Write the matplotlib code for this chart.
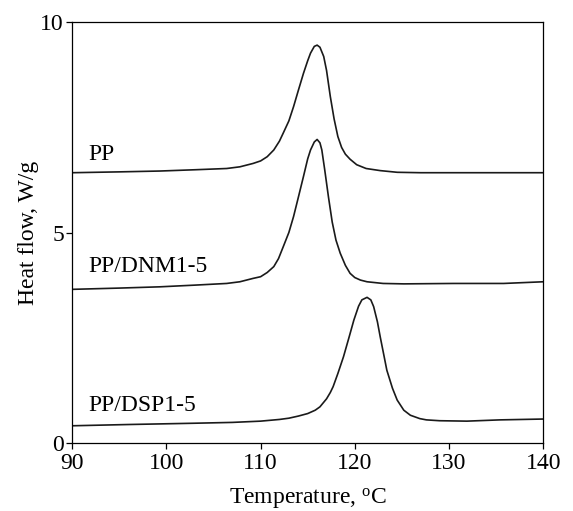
import matplotlib
matplotlib.use('Agg')
import matplotlib.pyplot as plt

plt.rcParams['font.family'] = ['Liberation Serif', 'DejaVu Serif']
plt.rcParams['mathtext.fontset'] = 'custom'
plt.rcParams['mathtext.rm'] = 'Liberation Serif'

# DSC cooling curves
pp_t = [90, 95, 99.3, 103, 106.4, 107.8, 108.5, 109.2, 110, 110.7, 111.4, 112.0,
        112.4, 113.0, 113.5, 114.0, 114.55, 115.0, 115.3, 115.7, 116.0, 116.3,
        116.7, 117.0, 117.4, 117.8, 118.2, 118.6, 119.0, 119.5, 120.2, 121.2,
        122.7, 124.5, 127, 130, 135, 140]
pp_hf = [6.42, 6.44, 6.46, 6.49, 6.52, 6.56, 6.60, 6.64, 6.70, 6.80, 6.96, 7.17,
         7.36, 7.65, 7.99, 8.37, 8.78, 9.08, 9.26, 9.42, 9.45, 9.40,
         9.18, 8.85, 8.23, 7.70, 7.28, 7.02, 6.86, 6.74, 6.61, 6.52,
         6.47, 6.43, 6.42, 6.42, 6.42, 6.42]

dnm_t = [90, 95, 99.3, 103, 106.4, 107.8, 109.2, 110, 110.7, 111.4, 111.9, 112.4,
         113.0, 113.5, 114.0, 114.55, 115.0, 115.3, 115.7, 116.0, 116.3, 116.5,
         116.8, 117.2, 117.6, 118.0, 118.45, 119.0, 119.5, 120.0, 120.6, 121.3,
         123, 125.2, 130.5, 135.8, 140]
dnm_hf = [3.65, 3.68, 3.71, 3.75, 3.79, 3.83, 3.91, 3.95, 4.05, 4.19, 4.38, 4.66,
          5.00, 5.38, 5.83, 6.33, 6.75, 6.96, 7.15, 7.21, 7.13, 6.96,
          6.50, 5.85, 5.25, 4.82, 4.51, 4.22, 4.03, 3.93, 3.87, 3.83,
          3.79, 3.78, 3.79, 3.79, 3.83]

dsp_t = [90, 96, 102.9, 107, 110, 112, 113, 114, 115, 115.8, 116.3, 117.0,
         117.4, 117.7, 118.2, 118.8, 119.4, 119.9, 120.4, 120.75, 121.3, 121.7,
         122.0, 122.4, 122.7, 123.1, 123.4, 124.0, 124.5, 125.2, 125.9, 126.9,
         127.6, 129, 131.9, 135.4, 140]
dsp_hf = [0.41, 0.44, 0.47, 0.49, 0.52, 0.56, 0.59, 0.64, 0.70, 0.78, 0.86, 1.05,
          1.20, 1.34, 1.65, 2.05, 2.52, 2.92, 3.25, 3.40, 3.46, 3.40,
          3.24, 2.88, 2.52, 2.07, 1.73, 1.30, 1.02, 0.78, 0.66, 0.58,
          0.55, 0.53, 0.52, 0.55, 0.57]

labels = ['PP', 'PP/DNM1-5', 'PP/DSP1-5']
label_y = [6.85, 4.2, 0.9]

fig = plt.figure(figsize=(5.73, 5.11), dpi=100, facecolor='white')
ax = fig.add_axes([0.126, 0.133, 0.822, 0.824])

for t, hf in [(pp_t, pp_hf), (dnm_t, dnm_hf), (dsp_t, dsp_hf)]:
    ax.plot(t, hf, color='#1a1a1a', lw=1.2)

for lab, y in zip(labels, label_y):
    ax.text(91.7, y, lab, fontsize=17, va='center', ha='left')

ax.set_xlim(90, 140)
ax.set_ylim(0, 10)
ax.set_xticks([90, 100, 110, 120, 130, 140])
ax.set_yticks([0, 5, 10])
ax.tick_params(direction='out', length=4, width=0.9, labelsize=17,
               top=False, right=False)
ax.tick_params(axis='x', pad=3)
ax.tick_params(axis='y', pad=2)
for s in ax.spines.values():
    s.set_linewidth(0.9)

ax.set_xlabel('Temperature, $\\mathrm{^{o}}$C', fontsize=17, labelpad=9)
ax.set_ylabel('Heat flow, W/g', fontsize=17, labelpad=1)

fig.savefig('out.png', dpi=100)
